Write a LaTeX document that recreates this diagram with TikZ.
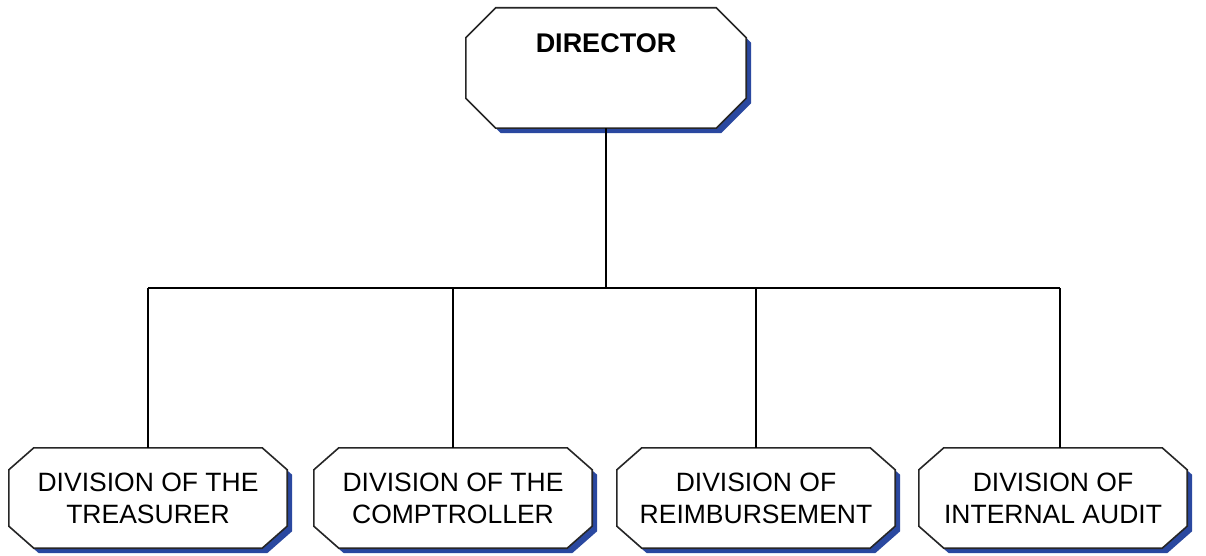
\documentclass[tikz,border=0pt]{standalone}
\usepackage{fontspec}
\setmainfont{Liberation Sans}
\usetikzlibrary{positioning,calc,backgrounds}
\definecolor{shadowblue}{RGB}{42,72,160}

% octagon outline round a named node: #1 name, #2 x chamfer, #3 y chamfer
\newcommand{\champath}[3]{($(#1.north west)+(#2,0)$) -- ($(#1.north east)+(-#2,0)$)
    -- ($(#1.north east)+(0,-#3)$) -- ($(#1.south east)+(0,#3)$)
    -- ($(#1.south east)+(-#2,0)$) -- ($(#1.south west)+(#2,0)$)
    -- ($(#1.south west)+(0,#3)$) -- ($(#1.north west)+(0,-#3)$) -- cycle}

\tikzset{
    unit/.style={rectangle, minimum width=278pt, minimum height=100pt, inner sep=0pt,
        align=center, font=\fontsize{26.5}{32}\selectfont},
    boxline/.style={draw=black!85, line width=1.6pt, fill=white},
    boxshadow/.style={fill=shadowblue},
    link/.style={line width=1.4pt}
}

\begin{document}
\begin{tikzpicture}[x=1pt,y=1pt]
    \useasboundingbox (0,0) rectangle (1206,555);
    % top
    \node[unit, minimum width=280pt, minimum height=120pt, font=\bfseries\fontsize{27}{30}\selectfont]
          (director) at (606,487) {\raisebox{15pt}[0pt][0pt]{DIRECTOR}};
    % divisions
    \node[unit] (treasurer)   at (148,57)  {DIVISION OF THE\\TREASURER};
    \node[unit] (comptroller) at (453,57)  {DIVISION OF THE\\COMPTROLLER};
    \node[unit] (reimburse)   at (756,57)  {DIVISION OF\\REIMBURSEMENT};
    \node[unit, minimum width=268pt] (audit) at (1053,57) {DIVISION OF\\INTERNAL AUDIT};
    % boxes behind the texts
    \begin{scope}[on background layer]
        \foreach \n/\cx/\cy in {director/30/30, treasurer/25/22, comptroller/25/22,
                               reimburse/25/22, audit/25/22} {
            \begin{scope}[transform canvas={shift={(5pt,-5pt)}}]
                \fill[boxshadow] \champath{\n}{\cx}{\cy};
            \end{scope}
            \draw[boxline] \champath{\n}{\cx}{\cy};
        }
    \end{scope}
    % connectors
    \coordinate (bus) at (director.south |- 0,267);
    \coordinate (busL) at (treasurer.north |- bus);
    \coordinate (busR) at (1060,267);
    \draw[link] (director.south) -- (bus);
    \draw[link] (busL) -- (busR);
    \draw[link] (busL) -- (treasurer.north);
    \draw[link] (comptroller.north |- bus) -- (comptroller.north);
    \draw[link] (reimburse.north |- bus) -- (reimburse.north);
    \draw[link] (busR) -- (busR |- audit.north);
\end{tikzpicture}
\end{document}
